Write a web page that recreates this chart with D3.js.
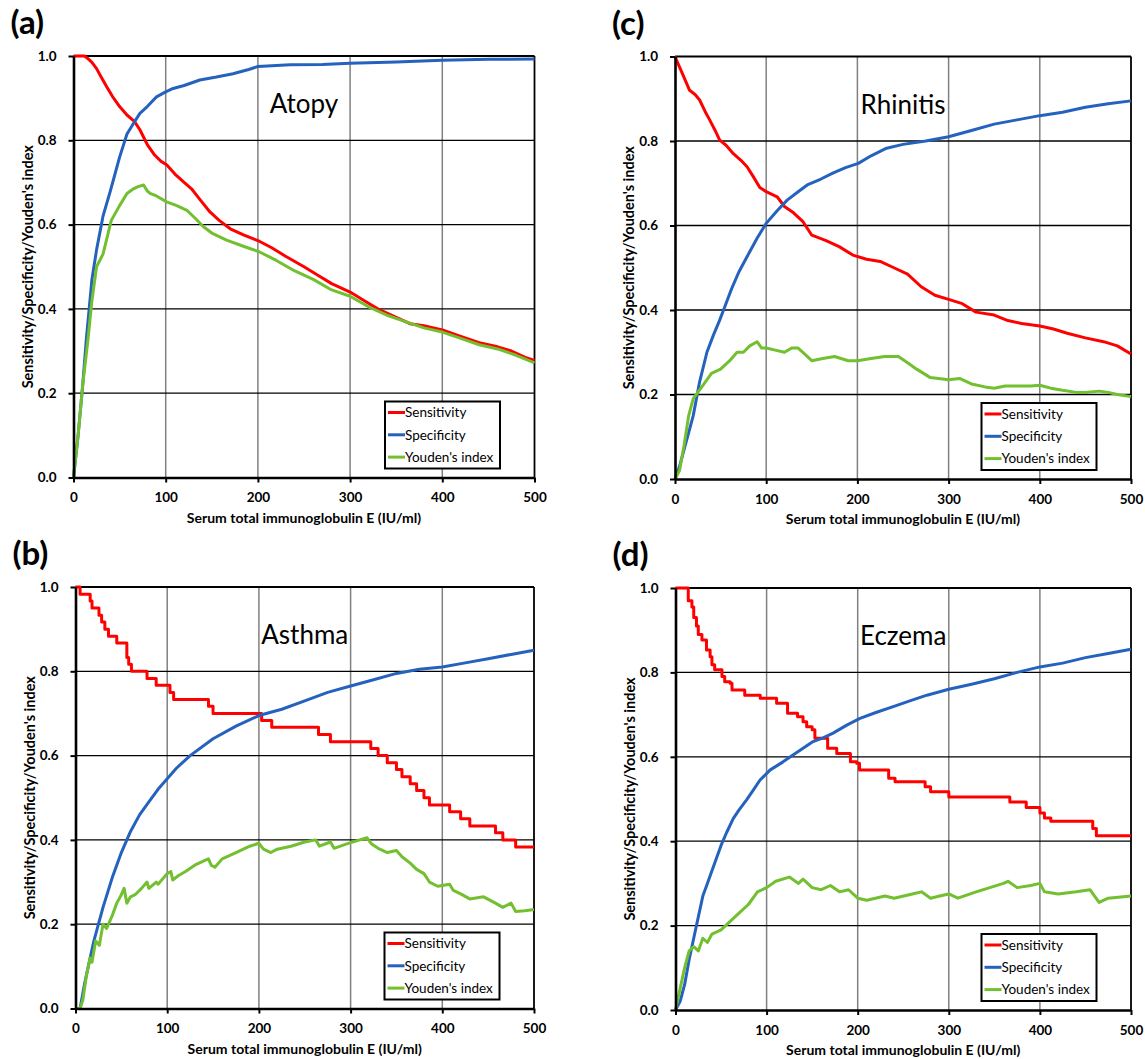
<!DOCTYPE html>
<html>
<head>
<meta charset="utf-8">
<script src="https://cdn.jsdelivr.net/npm/d3@7"></script>
<style>
  body { margin: 0; background: #fff; }
  svg { display: block; }
  text { font-family: Lato, "Open Sans", sans-serif; fill: #000; }
</style>
</head>
<body>
<svg id="chart"></svg>
<script>
var xTicks = [0, 100, 200, 300, 400, 500];
var yTicks = [0, 0.2, 0.4, 0.6, 0.8, 1.0];
var panelLetters = ["(a)", "(b)", "(c)", "(d)"];
var panelTitles = ["Atopy", "Asthma", "Rhinitis", "Eczema"];
var seriesNames = ["Sensitivity", "Specificity", "Youden's index"];
var seriesColors = ["#ff0000", "#2462be", "#72bf30"];
var xTitle = "Serum total immunoglobulin E (IU/ml)";
var yTitle = "Sensitivity/Specificity/Youden's index";

// [IgE, value]
var atopySensitivity = [[0,1],[12,1],[16,0.993],[20,0.985],[25,0.97],[30,0.95],[36,0.927],[42,0.905],[50,0.88],[58,0.86],[66,0.845],[72,0.825],[80,0.79],[88,0.765],[95,0.75],[101,0.742],[110,0.72],[120,0.7],[128,0.685],[137,0.66],[148,0.63],[158,0.61],[170,0.59],[185,0.575],[202,0.56],[215,0.545],[230,0.525],[250,0.5],[265,0.48],[280,0.46],[300,0.44],[315,0.42],[330,0.4],[350,0.38],[365,0.365],[380,0.36],[400,0.35],[420,0.335],[440,0.32],[460,0.31],[475,0.3],[490,0.285],[500,0.278]];
var atopySpecificity = [[0,0],[5,0.1],[10,0.22],[14,0.33],[20,0.47],[25,0.54],[32,0.62],[40,0.68],[45,0.72],[50,0.76],[58,0.815],[65,0.84],[72,0.864],[80,0.88],[90,0.903],[100,0.915],[108,0.923],[120,0.93],[137,0.943],[155,0.95],[173,0.958],[190,0.968],[200,0.975],[235,0.979],[270,0.98],[300,0.983],[350,0.986],[400,0.99],[450,0.992],[500,0.993]];
var atopyYouden = [[0,0],[5,0.1],[10,0.22],[16,0.333],[20,0.42],[25,0.5],[32,0.53],[41,0.61],[50,0.645],[58,0.674],[65,0.685],[70,0.69],[76,0.694],[80,0.68],[83,0.674],[90,0.668],[101,0.654],[112,0.645],[123,0.634],[132,0.615],[141,0.595],[150,0.58],[166,0.563],[185,0.548],[202,0.535],[220,0.515],[240,0.49],[260,0.47],[280,0.445],[300,0.43],[320,0.405],[340,0.385],[360,0.37],[380,0.355],[400,0.345],[420,0.33],[440,0.315],[460,0.305],[480,0.29],[500,0.272]];

var asthmaSensitivity = [[0,1],[5,0.983],[16,0.967],[18,0.95],[25.6,0.933],[28.5,0.917],[32,0.9],[36,0.883],[45,0.867],[56,0.833],[58,0.817],[61,0.8],[78,0.783],[88,0.767],[103,0.75],[107,0.733],[145,0.717],[150,0.7],[203,0.683],[214,0.667],[265,0.65],[278,0.633],[322,0.617],[330,0.6],[340,0.583],[350,0.567],[356,0.55],[365,0.533],[372,0.517],[380,0.5],[386,0.483],[408,0.467],[420,0.45],[430,0.433],[458,0.417],[466,0.4],[480,0.383],[500,0.383]];
var asthmaSpecificity = [[0,0],[5,0],[10,0.06],[15,0.11],[20,0.16],[25,0.2],[30,0.24],[40,0.31],[50,0.37],[60,0.42],[70,0.46],[80,0.49],[90,0.52],[100,0.545],[110,0.57],[125,0.6],[150,0.64],[175,0.67],[200,0.695],[225,0.71],[250,0.73],[275,0.75],[300,0.765],[325,0.78],[350,0.795],[375,0.805],[400,0.81],[425,0.82],[450,0.83],[475,0.84],[500,0.85]];
var asthmaYouden = [[0,0],[5,0],[8,0.02],[12,0.08],[16,0.12],[18,0.11],[22,0.16],[26,0.15],[30,0.2],[34,0.19],[40,0.22],[45,0.25],[50,0.27],[53,0.285],[56,0.25],[60,0.265],[65,0.27],[72,0.285],[78,0.3],[80,0.285],[88,0.3],[90,0.295],[100,0.32],[104,0.325],[106,0.305],[112,0.315],[120,0.325],[130,0.34],[140,0.35],[145,0.355],[148,0.34],[152,0.335],[160,0.355],[175,0.37],[190,0.385],[200,0.392],[205,0.378],[213,0.37],[220,0.378],[235,0.385],[250,0.395],[262,0.4],[266,0.385],[278,0.395],[282,0.38],[295,0.39],[310,0.4],[318,0.405],[323,0.39],[330,0.38],[340,0.37],[350,0.375],[356,0.36],[365,0.345],[372,0.33],[380,0.32],[386,0.3],[395,0.29],[408,0.295],[412,0.28],[420,0.272],[430,0.26],[445,0.265],[458,0.25],[466,0.24],[475,0.25],[480,0.23],[490,0.232],[500,0.235]];

var rhinitisSensitivity = [[0,1],[5,0.975],[10,0.95],[16,0.92],[22,0.91],[27,0.897],[33,0.87],[38,0.85],[44,0.825],[49,0.802],[56,0.79],[64,0.77],[72,0.755],[79,0.739],[86,0.715],[93,0.69],[100,0.68],[112,0.668],[120,0.645],[130,0.63],[140,0.61],[150,0.577],[165,0.565],[180,0.55],[195,0.53],[210,0.52],[225,0.515],[240,0.5],[255,0.485],[270,0.455],[285,0.435],[300,0.425],[315,0.415],[330,0.395],[350,0.388],[365,0.375],[380,0.368],[400,0.362],[415,0.355],[430,0.345],[450,0.334],[470,0.325],[485,0.315],[500,0.296]];
var rhinitisSpecificity = [[0,0],[5,0.03],[10,0.07],[15,0.11],[20,0.15],[27,0.23],[35,0.3],[42,0.34],[49,0.376],[55,0.41],[62,0.45],[70,0.49],[80,0.53],[90,0.57],[100,0.605],[112,0.635],[123,0.66],[135,0.68],[145,0.696],[160,0.71],[173,0.724],[187,0.737],[201,0.747],[215,0.765],[232,0.783],[250,0.792],[275,0.8],[300,0.81],[325,0.825],[350,0.84],[375,0.85],[400,0.86],[425,0.868],[450,0.88],[475,0.888],[500,0.895]];
var rhinitisYouden = [[0,0],[5,0.02],[10,0.08],[15,0.15],[20,0.19],[30,0.22],[40,0.25],[50,0.26],[55,0.27],[60,0.28],[68,0.3],[75,0.3],[82,0.315],[90,0.325],[95,0.31],[100,0.31],[110,0.305],[120,0.3],[128,0.31],[135,0.31],[145,0.29],[150,0.28],[162,0.285],[175,0.29],[190,0.28],[200,0.28],[215,0.285],[230,0.29],[245,0.29],[255,0.275],[265,0.26],[280,0.24],[300,0.235],[312,0.238],[325,0.225],[340,0.218],[350,0.215],[362,0.22],[375,0.22],[390,0.22],[400,0.222],[412,0.215],[425,0.21],[440,0.205],[450,0.205],[465,0.208],[475,0.205],[485,0.2],[500,0.195]];

var eczemaSensitivity = [[0,1],[14,0.97],[18,0.955],[20,0.93],[23,0.91],[25,0.89],[29,0.877],[34,0.853],[38,0.837],[40,0.818],[43,0.806],[51,0.79],[54,0.778],[60,0.774],[62,0.758],[76,0.746],[93,0.739],[111,0.727],[123,0.703],[134,0.695],[140,0.683],[144,0.671],[150,0.664],[153,0.644],[167,0.62],[177,0.608],[192,0.588],[199,0.585],[202,0.569],[234,0.549],[241,0.541],[274,0.529],[280,0.517],[300,0.505],[367,0.493],[385,0.48],[400,0.467],[405,0.455],[412,0.447],[458,0.43],[462,0.413],[500,0.413]];
var eczemaSpecificity = [[0,0],[5,0.02],[10,0.06],[15,0.12],[20,0.17],[25,0.22],[30,0.27],[35,0.3],[40,0.33],[50,0.39],[56,0.42],[63.5,0.454],[70,0.475],[78,0.498],[85,0.52],[92.8,0.545],[104,0.569],[118,0.588],[129,0.604],[140,0.62],[151,0.636],[162,0.645],[173,0.656],[188,0.675],[202.5,0.691],[220,0.705],[239,0.719],[258,0.733],[276,0.746],[290,0.754],[300,0.76],[325,0.772],[350,0.785],[375,0.8],[400,0.813],[425,0.822],[450,0.835],[475,0.845],[500,0.855]];
var eczemaYouden = [[0,0],[5,0.05],[10,0.1],[15,0.14],[20,0.15],[25,0.14],[30,0.17],[35,0.16],[40,0.18],[50,0.19],[60,0.21],[70,0.23],[80,0.25],[90,0.28],[100,0.29],[110,0.305],[125,0.315],[135,0.3],[140,0.31],[150,0.29],[160,0.285],[170,0.295],[180,0.28],[190,0.285],[200,0.265],[210,0.26],[230,0.27],[240,0.265],[260,0.275],[270,0.28],[280,0.265],[290,0.27],[300,0.275],[310,0.265],[330,0.28],[345,0.29],[360,0.3],[365,0.305],[375,0.29],[390,0.295],[400,0.3],[405,0.28],[420,0.275],[440,0.28],[455,0.285],[460,0.27],[465,0.255],[475,0.265],[500,0.27]];

var svg = d3.select("#chart").attr("width", 1145).attr("height", 1059);

var panels = [
  { letter: panelLetters[0], title: panelTitles[0], series: [atopySensitivity, atopySpecificity, atopyYouden], step: false,
    left: 73.5, right: 534.5, top: 56, bottom: 477.5 },
  { letter: panelLetters[1], title: panelTitles[1], series: [asthmaSensitivity, asthmaSpecificity, asthmaYouden], step: true,
    left: 75.5, right: 534, top: 587, bottom: 1008.5 },
  { letter: panelLetters[2], title: panelTitles[2], series: [rhinitisSensitivity, rhinitisSpecificity, rhinitisYouden], step: false,
    left: 675, right: 1131, top: 56.5, bottom: 479 },
  { letter: panelLetters[3], title: panelTitles[3], series: [eczemaSensitivity, eczemaSpecificity, eczemaYouden], step: true,
    left: 675.5, right: 1131, top: 588, bottom: 1010 }
];

panels.forEach(drawPanel);

function drawPanel(p) {
  var x = d3.scaleLinear().domain([0, 500]).range([p.left, p.right]);
  var y = d3.scaleLinear().domain([0, 1]).range([p.bottom, p.top]);
  var g = svg.append("g");

  // grid: grey verticals, black horizontals
  g.selectAll(".vgrid").data(xTicks.slice(1)).enter().append("line")
    .attr("x1", d => x(d)).attr("x2", d => x(d))
    .attr("y1", y(0)).attr("y2", y(1))
    .attr("stroke", d => d === 500 ? "#000" : "#808080")
    .attr("stroke-width", d => d === 500 ? 1.8 : 1.5);
  g.selectAll(".hgrid").data(yTicks.slice(1)).enter().append("line")
    .attr("x1", x(0)).attr("x2", x(500))
    .attr("y1", d => y(d)).attr("y2", d => y(d))
    .attr("stroke", "#000")
    .attr("stroke-width", d => d === 1 ? 1.8 : 1.3);

  // curves
  p.series.forEach(function (data, i) {
    var line = d3.line()
      .x(d => x(d[0])).y(d => y(d[1]))
      .curve(p.step && i === 0 ? d3.curveStepAfter : d3.curveLinear);
    g.append("path").datum(data)
      .attr("d", line)
      .attr("fill", "none")
      .attr("stroke", seriesColors[i])
      .attr("stroke-width", 3)
      .attr("stroke-linejoin", "round");
  });

  // axes
  var xAxis = g.append("g")
    .attr("transform", `translate(0,${y(0)})`)
    .call(d3.axisBottom(x).tickValues(xTicks).tickSize(5).tickSizeOuter(0).tickPadding(10));
  var yAxis = g.append("g")
    .attr("transform", `translate(${x(0)},0)`)
    .call(d3.axisLeft(y).tickValues(yTicks).tickSize(5).tickSizeOuter(0).tickPadding(12).tickFormat(d3.format(".1f")));
  [xAxis, yAxis].forEach(function (a) {
    a.select(".domain").attr("stroke", "#000").attr("stroke-width", 2.6);
    a.selectAll(".tick line").attr("stroke", "#000").attr("stroke-width", 2);
    a.selectAll(".tick text").attr("font-family", "Lato, 'Open Sans', sans-serif")
      .attr("font-size", 13.5).attr("font-weight", "bold").attr("fill", "#000");
  });

  // axis titles
  g.append("text")
    .attr("x", (p.left + p.right) / 2).attr("y", p.bottom + 45)
    .attr("text-anchor", "middle")
    .attr("font-size", 14).attr("font-weight", "bold")
    .text(xTitle);
  g.append("text")
    .attr("transform", `translate(${p.left - 41},${(p.top + p.bottom) / 2}) rotate(-90)`)
    .attr("text-anchor", "middle")
    .attr("font-size", 14.5).attr("font-weight", "bold")
    .text(yTitle);

  // panel letter and title
  g.append("text")
    .attr("x", p.left - 63).attr("y", p.top - 22)
    .attr("font-size", 33).attr("font-weight", "bold")
    .text(p.letter);
  g.append("text")
    .attr("x", (p.left + p.right) / 2).attr("y", p.top + 57)
    .attr("text-anchor", "middle")
    .attr("font-size", 26)
    .text(p.title);

  // legend
  var lx = p.right - 149.5, ly = p.bottom - 76;
  var leg = g.append("g").attr("transform", `translate(${lx},${ly})`);
  leg.append("rect")
    .attr("width", 115).attr("height", 67)
    .attr("fill", "#fff").attr("stroke", "#000").attr("stroke-width", 2);
  leg.selectAll(".item").data(seriesNames).enter().append("g")
    .attr("transform", (d, i) => `translate(0,${11 + i * 22.3})`)
    .each(function (d, i) {
      var it = d3.select(this);
      it.append("line").attr("x1", 3).attr("x2", 20)
        .attr("stroke", seriesColors[i]).attr("stroke-width", 3);
      it.append("text").attr("x", 20).attr("dy", "0.36em")
        .attr("font-size", 13.5).text(d);
    });
}
</script>
</body>
</html>
